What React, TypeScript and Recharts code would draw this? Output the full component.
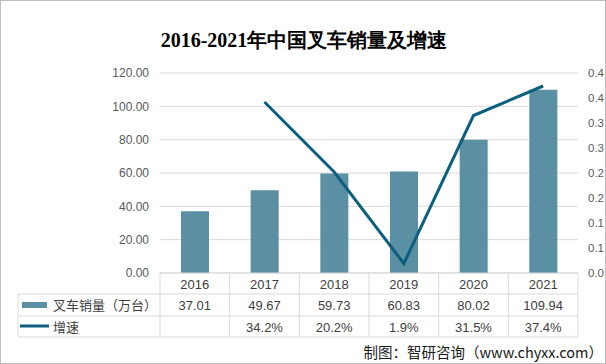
import React from "react";
import {
  ComposedChart,
  Bar,
  Line,
  XAxis,
  YAxis,
  CartesianGrid,
} from "recharts";

// 2016-2021 China forklift sales (10k units) and growth rate
const years = ["2016", "2017", "2018", "2019", "2020", "2021"];
const sales = [37.01, 49.67, 59.73, 60.83, 80.02, 109.94];
const growth: (number | null)[] = [null, 0.342, 0.202, 0.019, 0.315, 0.374];

const leftTicks = [0, 20, 40, 60, 80, 100, 120];
const rightTicks = [0, 0.05, 0.1, 0.15, 0.2, 0.25, 0.3, 0.35, 0.4];
const rightTickLabels = ["0.0", "0.1", "0.1", "0.2", "0.2", "0.3", "0.3", "0.4", "0.4"];

const salesLabel = "叉车销量（万台）";
const growthLabel = "增速";

const BAR_COLOR = "#5b8fa3";
const LINE_COLOR = "#0d5f7f";
const GRID = "#d9d9d9";
const TEXT = "#404040";
const FONT = "'Liberation Sans', 'Noto Sans CJK SC', sans-serif";

const data = years.map((y, i) => ({
  year: y,
  sales: sales[i],
  growth: growth[i],
}));

// draws one column of the data table under the plot
function TableTick(props: any) {
  const { x, y, payload, index, width, visibleTicksCount } = props;
  const cell = width && visibleTicksCount ? width / visibleTicksCount : 69.67;
  const left = x - cell / 2;
  const right = x + cell / 2;
  const rows = [21, 43, 64];
  const g = growth[index];
  const legendLeft = left - index * cell - 142;
  const plotLeft = left - index * cell;
  return (
    <g fontFamily={FONT} fontSize={13} fill={TEXT}>
      {rows.map((r) => (
        <line key={r} x1={left} x2={right} y1={y + r} y2={y + r} stroke={GRID} />
      ))}
      <line x1={right} x2={right} y1={y} y2={y + 64} stroke={GRID} />
      {index === 0 && (
        <g>
          <line x1={left} x2={left} y1={y} y2={y + 64} stroke={GRID} />
          {rows.map((r) => (
            <line key={r} x1={legendLeft} x2={plotLeft} y1={y + r} y2={y + r} stroke={GRID} />
          ))}
          <line x1={legendLeft} x2={legendLeft} y1={y + 21} y2={y + 64} stroke={GRID} />
          <rect x={legendLeft + 4} y={y + 29} width={25} height={6} fill={BAR_COLOR} />
          <line
            x1={legendLeft + 2}
            x2={legendLeft + 31}
            y1={y + 53}
            y2={y + 53}
            stroke={LINE_COLOR}
            strokeWidth={3}
          />
          <text x={legendLeft + 35} y={y + 32} dominantBaseline="central" fill={TEXT}>
            {salesLabel}
          </text>
          <text x={legendLeft + 35} y={y + 54} dominantBaseline="central" fill={TEXT}>
            {growthLabel}
          </text>
        </g>
      )}
      <text x={x} y={y + 11} textAnchor="middle" dominantBaseline="central" fill={TEXT}>
        {payload.value}
      </text>
      <text x={x} y={y + 32} textAnchor="middle" dominantBaseline="central" fill={TEXT}>
        {sales[index].toFixed(2)}
      </text>
      {g !== null && (
        <text x={x} y={y + 54} textAnchor="middle" dominantBaseline="central" fill={TEXT}>
          {(g * 100).toFixed(1) + "%"}
        </text>
      )}
    </g>
  );
}

export default function App() {
  return (
    <div
      style={{
        position: "absolute",
        left: 0,
        top: 0,
        width: 606,
        height: 364,
        background: "#fff",
        border: "1px solid #bfbfbf",
        boxSizing: "border-box",
        overflow: "hidden",
      }}
    >
      <div
        style={{
          position: "absolute",
          left: 0,
          top: 0,
          width: 606,
          height: 364,
        }}
      >
        <ComposedChart
          width={606}
          height={364}
          data={data}
          margin={{ top: 72, right: 0, bottom: 28, left: 0 }}
        >
          <CartesianGrid yAxisId="left" vertical={false} stroke={GRID} />
          <XAxis
            dataKey="year"
            height={64}
            interval={0}
            tickLine={false}
            tickSize={0}
            tickMargin={0}
            axisLine={{ stroke: GRID }}
            tick={<TableTick />}
          />
          <YAxis
            yAxisId="left"
            width={159}
            domain={[0, 120]}
            ticks={leftTicks}
            axisLine={false}
            tickLine={false}
            tickSize={0}
            tickMargin={11}
            tick={{ fontSize: 12, fill: "#595959", fontFamily: FONT }}
            tickFormatter={(v) => Number(v).toFixed(2)}
          />
          <YAxis
            yAxisId="right"
            orientation="right"
            width={29}
            domain={[0, 0.4]}
            ticks={rightTicks}
            axisLine={false}
            tickLine={false}
            tickSize={0}
            tickMargin={10}
            tick={{ fontSize: 11.5, fill: "#595959", fontFamily: FONT }}
            tickFormatter={(v, i) => rightTickLabels[i]}
          />
          <Bar
            yAxisId="left"
            dataKey="sales"
            fill={BAR_COLOR}
            barSize={28}
            isAnimationActive={false}
          />
          <Line
            yAxisId="right"
            dataKey="growth"
            stroke={LINE_COLOR}
            strokeWidth={3}
            dot={false}
            isAnimationActive={false}
          />
        </ComposedChart>
      </div>
      <div
        style={{
          position: "absolute",
          left: 0,
          top: 27,
          width: 606,
          textAlign: "center",
          fontFamily: "serif",
          fontWeight: "bold",
          fontSize: 20,
          lineHeight: "24px",
          color: "#000",
        }}
      >
        2016-2021年中国叉车销量及增速
      </div>
      <div
        style={{
          position: "absolute",
          right: 2,
          top: 341,
          fontFamily: "'Noto Sans CJK SC', sans-serif",
          fontSize: 14.5,
          lineHeight: "20px",
          color: "#1a1a1a",
          whiteSpace: "nowrap",
        }}
      >
        制图：智研咨询（www.chyxx.com）
      </div>
    </div>
  );
}
